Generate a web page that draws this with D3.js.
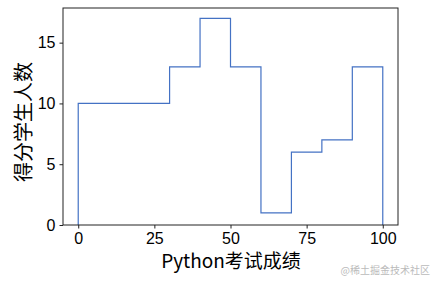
<!DOCTYPE html>
<html>
<head>
<meta charset="utf-8">
<script src="https://cdn.jsdelivr.net/npm/d3@7"></script>
<style>
  body { margin: 0; background: #fff; }
  svg text { fill: #000; }
</style>
</head>
<body>
<div id="chart"></div>
<script>
// histogram bins (edges) and student counts per bin
const binEdges = [0, 10, 20, 30, 40, 50, 60, 70, 80, 90, 100];
const counts = [10, 10, 10, 13, 17, 13, 1, 6, 7, 13];
const xTicks = [0, 25, 50, 75, 100];
const yTicks = [0, 5, 10, 15];
const xLabel = 'Python考试成绩';
const yLabel = '得分学生人数';
const watermark = '@稀土掘金技术社区';

const W = 439, H = 285;
const margin = { top: 8, right: 41, bottom: 60, left: 63 };
const width = W - margin.left - margin.right;
const height = H - margin.top - margin.bottom;

const svg = d3.select('#chart').append('svg')
  .attr('width', W)
  .attr('height', H);

const g = svg.append('g')
  .attr('transform', `translate(${margin.left},${margin.top})`);

const x = d3.scaleLinear().domain([-5, 105]).range([0, width]);
const yMax = d3.max(counts) * 1.05;
const y = d3.scaleLinear().domain([0, yMax]).range([height, 0]);

// step outline like matplotlib histtype='step'
const pts = [[binEdges[0], 0]];
counts.forEach((c, i) => {
  pts.push([binEdges[i], c]);
  pts.push([binEdges[i + 1], c]);
});
pts.push([binEdges[binEdges.length - 1], 0]);

g.append('path')
  .datum(pts)
  .attr('fill', 'none')
  .attr('stroke', '#4472c4')
  .attr('stroke-width', 1.2)
  .attr('d', d3.line().x(d => x(d[0])).y(d => y(d[1])));

// frame
g.append('rect')
  .attr('width', width)
  .attr('height', height)
  .attr('fill', 'none')
  .attr('stroke', '#222')
  .attr('stroke-width', 1);

const tickFont = '"Liberation Sans", Arial, sans-serif';

const xAxis = g.append('g')
  .attr('transform', `translate(0,${height})`)
  .call(d3.axisBottom(x).tickValues(xTicks).tickSize(3.5).tickPadding(4));
const yAxis = g.append('g')
  .call(d3.axisLeft(y).tickValues(yTicks).tickSize(3.5).tickPadding(4));

[xAxis, yAxis].forEach(a => {
  a.select('.domain').remove();
  a.selectAll('line').attr('stroke', '#222');
  a.selectAll('text')
    .attr('font-family', tickFont)
    .attr('font-size', 16)
    .attr('fill', '#000');
});

svg.append('text')
  .attr('x', 231)
  .attr('y', 268)
  .attr('text-anchor', 'middle')
  .attr('font-family', '"Noto Sans CJK SC", sans-serif')
  .attr('font-size', 19)
  .text(xLabel);

svg.append('text')
  .attr('transform', `translate(31,122) rotate(-90)`)
  .attr('text-anchor', 'middle')
  .attr('font-family', '"Noto Sans CJK SC", sans-serif')
  .attr('font-size', 20)
  .text(yLabel);

svg.append('text')
  .attr('x', 430)
  .attr('y', 274)
  .attr('text-anchor', 'end')
  .attr('font-family', '"Noto Sans CJK SC", sans-serif')
  .attr('font-size', 10)
  .style('fill', '#bbb')
  .text(watermark);
</script>
</body>
</html>
